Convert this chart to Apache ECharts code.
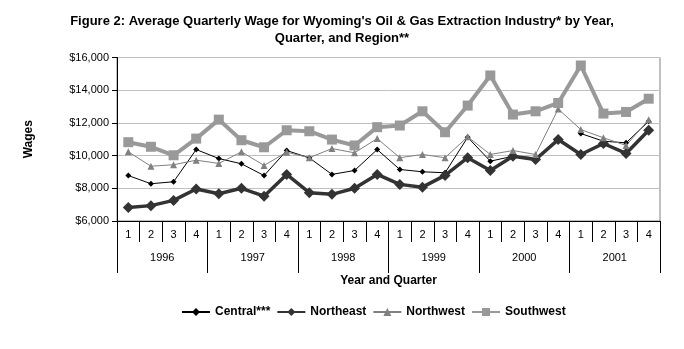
<!DOCTYPE html>
<html><head><meta charset="utf-8">
<script src="https://cdn.jsdelivr.net/npm/echarts@6/dist/echarts.min.js"></script>
<style>html,body{margin:0;padding:0;background:#fff}#c{width:684px;height:349px}</style>
</head><body><div id="c"></div>
<script>
const quarters = ['1','2','3','4','1','2','3','4','1','2','3','4','1','2','3','4','1','2','3','4','1','2','3','4'];
const years = ['1996','1997','1998','1999','2000','2001'];
const central   = [8780,8280,8400,10370,9820,9500,8780,10310,9860,8850,9090,10370,9150,9010,8950,11120,9660,9960,9870,null,11350,10880,10780,12100];
const northeast = [6820,6940,7260,7960,7670,8000,7520,8850,7730,7630,8000,8850,8240,8070,8790,9870,9090,9960,9760,10980,10070,10740,10130,11550];
const northwest = [10230,9350,9440,9720,9520,10230,9400,10210,9870,10430,10170,11040,9870,10070,9870,11150,10070,10310,10070,12850,11590,11090,10620,12200];
const southwest = [10820,10540,10020,11040,12200,10940,10510,11550,11490,10980,10620,11740,11840,12710,11430,13060,14900,12510,12710,13220,15510,12570,12670,13480];

const F = 'Liberation Sans, Arial, sans-serif';
const chart = echarts.init(document.getElementById('c'), null, {renderer:'canvas'});
chart.setOption({
  animation:false,
  backgroundColor:'#fff',
  title:{
    text:"Figure 2: Average Quarterly Wage for Wyoming's Oil & Gas Extraction Industry* by Year,\nQuarter, and Region**",
    left:'center', top:8,
    textStyle:{fontFamily:'Liberation Sans Narrow, Liberation Sans, Arial',fontWeight:'bold',fontSize:13,lineHeight:17,color:'#000'}
  },
  grid:{left:117,right:24,top:57.5,bottom:128,show:true,borderColor:'#808080',borderWidth:1,backgroundColor:'transparent'},
  legend:{
    bottom:26, left:176, itemWidth:28, itemHeight:10, itemGap:6,
    textStyle:{fontFamily:F,fontWeight:'bold',fontSize:12,color:'#000'},
    data:['Central***','Northeast','Northwest','Southwest']
  },
  xAxis:[
    {type:'category',data:quarters,position:'bottom',boundaryGap:true,
     axisLine:{lineStyle:{color:'#000',width:1}},
     axisTick:{show:true,interval:0,length:21,lineStyle:{color:'#000'}},
     axisLabel:{interval:0,margin:8,fontFamily:F,fontSize:11,color:'#000'},
     splitLine:{show:false},
     name:'Year and Quarter',nameLocation:'middle',nameGap:54,
     nameTextStyle:{fontFamily:F,fontWeight:'bold',fontSize:12,color:'#000'}},
    {type:'category',data:years,position:'bottom',boundaryGap:true,
     axisLine:{show:false},
     axisTick:{show:true,interval:0,length:52,lineStyle:{color:'#000'}},
     axisLabel:{interval:0,margin:31,fontFamily:F,fontSize:11,color:'#000'},
     splitLine:{show:false}}
  ],
  yAxis:{type:'value',min:6000,max:16000,interval:2000,
    axisLine:{show:true,lineStyle:{color:'#000'}},
    axisTick:{show:true,length:5,lineStyle:{color:'#000'}},
    axisLabel:{margin:8,fontFamily:F,fontSize:11,color:'#000',formatter:v=>'$'+v.toLocaleString('en-US')},
    splitLine:{lineStyle:{color:'#c0c0c0',width:1}},
    name:'Wages',nameLocation:'middle',nameGap:82,nameRotate:90,
    nameTextStyle:{fontFamily:F,fontWeight:'bold',fontSize:12,color:'#000'}},
  series:[
    {name:'Central***',type:'line',data:central,connectNulls:false,symbol:'diamond',symbolSize:6,
     lineStyle:{color:'#000',width:1},itemStyle:{color:'#000'}},
    {name:'Northeast',type:'line',data:northeast,symbol:'diamond',symbolSize:11,
     lineStyle:{color:'#333',width:3.5},itemStyle:{color:'#333'}},
    {name:'Northwest',type:'line',data:northwest,symbol:'triangle',symbolSize:7,
     lineStyle:{color:'#808080',width:1},itemStyle:{color:'#808080'}},
    {name:'Southwest',type:'line',data:southwest,symbol:'rect',symbolSize:10,
     lineStyle:{color:'#999',width:4},itemStyle:{color:'#999'}}
  ]
});
</script></body></html>
